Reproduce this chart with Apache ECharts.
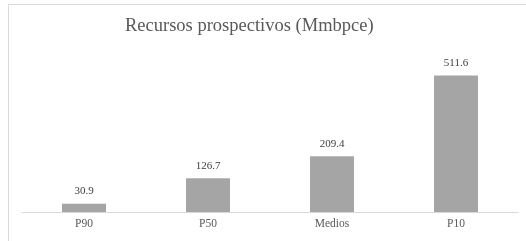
<!DOCTYPE html>
<html>
<head>
<meta charset="utf-8">
<script src="https://cdn.jsdelivr.net/npm/echarts@6/dist/echarts.min.js"></script>
<style>
	html, body { margin: 0; padding: 0; background: #fff; }
	#chart { width: 526px; height: 241px; }
</style>
</head>
<body>
<div id="chart"></div>
<script>
	var categories = ['P90', 'P50', 'Medios', 'P10'];
	var recursos = [30.9, 126.7, 209.4, 511.6];
	var chartTitle = 'Recursos prospectivos (Mmbpce)';

	var chart = echarts.init(document.getElementById('chart'));
	var serif = 'Liberation Serif';

	var option = {
		animation: false,
		title: {
			text: chartTitle,
			left: 120,
			top: 12,
			textStyle: {
				color: '#595959',
				fontFamily: serif,
				fontWeight: 'normal',
				fontSize: 18.5
			}
		},
		graphic: [{
			type: 'rect',
			shape: { x: 8.5, y: 4.5, width: 600, height: 300 },
			style: { fill: 'none', stroke: '#d9d9d9', lineWidth: 1 },
			silent: true
		}],
		grid: {
			left: 22,
			right: 8,
			top: 52,
			bottom: 29
		},
		xAxis: {
			type: 'category',
			data: categories,
			axisLine: { lineStyle: { color: '#d9d9d9' } },
			axisTick: { show: false },
			axisLabel: {
				color: '#595959',
				fontFamily: serif,
				fontSize: 11.5,
				margin: 6
			}
		},
		yAxis: {
			type: 'value',
			min: 0,
			max: 600,
			show: false,
			splitLine: { show: false }
		},
		series: [{
			type: 'bar',
			data: recursos,
			barWidth: '35.5%',
			itemStyle: { color: '#a5a5a5' },
			label: {
				show: true,
				position: 'top',
				distance: 7,
				color: '#404040',
				fontFamily: serif,
				fontSize: 11
			}
		}]
	};

	chart.setOption(option);
	window.addEventListener('resize', function() {
		chart.resize();
	});
</script>
</body>
</html>
